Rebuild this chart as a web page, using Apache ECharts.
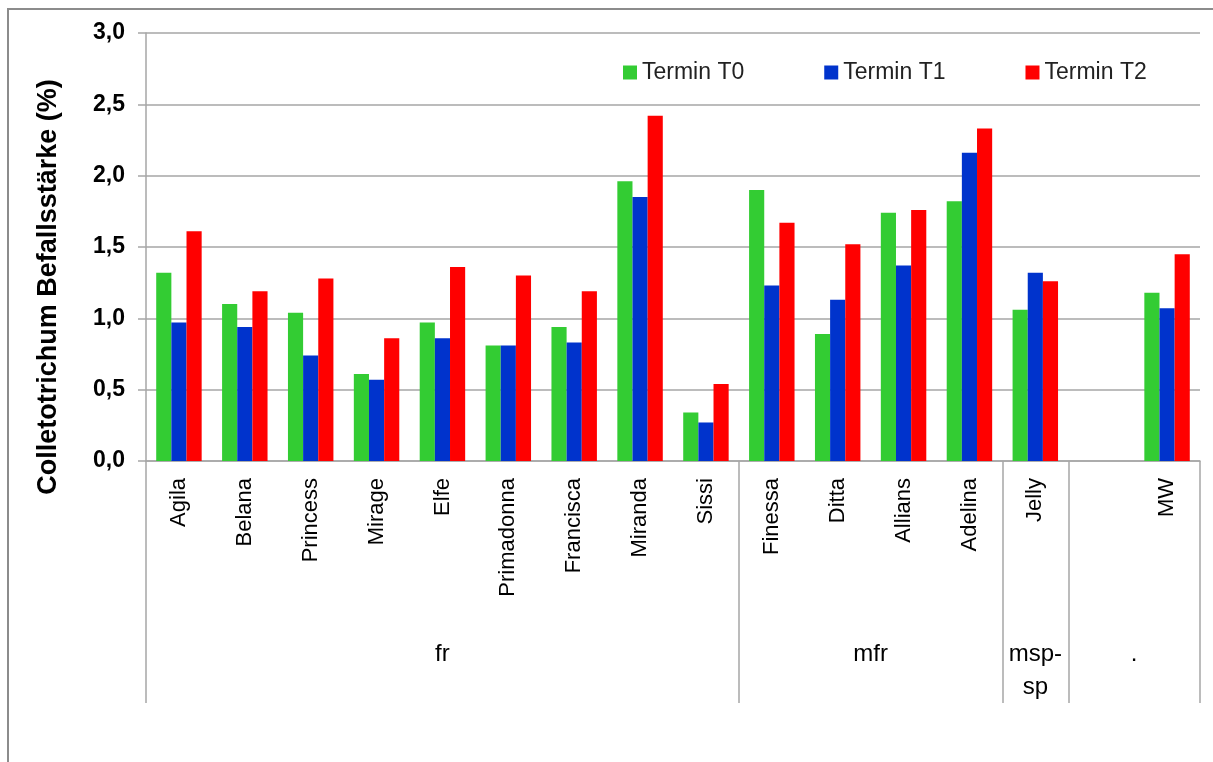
<!DOCTYPE html>
<html>
<head>
<meta charset="utf-8">
<script src="https://cdn.jsdelivr.net/npm/echarts@6/dist/echarts.min.js"></script>
<style>
  html, body { margin: 0; padding: 0; background: #fff; overflow: hidden; }
  #frame { position: absolute; left: 7px; top: 8px; width: 1300px; height: 800px; border: 2px solid #8c8c8c; }
  #main { position: absolute; left: 0; top: 0; width: 1213px; height: 762px; }
</style>
</head>
<body>
<div id="frame"></div>
<div id="main"></div>
<script>
// Sorten
var sorten = ['Agila', 'Belana', 'Princess', 'Mirage', 'Elfe', 'Primadonna', 'Francisca', 'Miranda', 'Sissi',
  'Finessa', 'Ditta', 'Allians', 'Adelina', 'Jelly', '', 'MW']
// Befallsstärke (%) je Termin
var terminT0 = [1.32, 1.10, 1.04, 0.61, 0.97, 0.81, 0.94, 1.96, 0.34, 1.90, 0.89, 1.74, 1.82, 1.06, null, 1.18]
var terminT1 = [0.97, 0.94, 0.74, 0.57, 0.86, 0.81, 0.83, 1.85, 0.27, 1.23, 1.13, 1.37, 2.16, 1.32, null, 1.07]
var terminT2 = [1.61, 1.19, 1.28, 0.86, 1.36, 1.30, 1.19, 2.42, 0.54, 1.67, 1.52, 1.76, 2.33, 1.26, null, 1.45]
// Gruppen (Position in Kategorien-Einheiten)
var gruppen = ['fr', 'mfr', 'msp-\nsp', '.']
var gruppenMitte = [4.5, 11, 13.5, 15]
var gruppenGrenzen = [0, 9, 13, 14, 16]
var yTicks = ['0,0', '0,5', '1,0', '1,5', '2,0', '2,5', '3,0']

var myChart = echarts.init(document.getElementById('main'))

var grau = '#a6a6a6'

var option = {
  animation: false,
  textStyle: { fontFamily: 'Liberation Sans, Arial, sans-serif' },
  grid: { left: 146, right: 13, top: 33, bottom: 301 },
  legend: {
    left: 618,
    top: 56,
    itemWidth: 14,
    itemHeight: 14,
    itemGap: 80,
    icon: 'rect',
    textStyle: { fontSize: 23, color: '#222', fontFamily: 'Liberation Sans, Arial' },
    data: ['Termin T0', 'Termin T1', 'Termin T2']
  },
  xAxis: [
    {
      type: 'category',
      data: sorten,
      axisLine: { lineStyle: { color: grau, width: 1.5 } },
      axisTick: { length: 164, lineStyle: { color: grau, width: 1.5 } },
      axisLabel: {
        rotate: 90,
        interval: 0,
        margin: 17,
        fontSize: 22,
        color: '#000'
      }
    },
    {
      type: 'value',
      position: 'bottom',
      min: 0,
      max: 16,
      axisLine: { show: false },
      splitLine: { show: false },
      axisTick: {
        show: true,
        length: 242,
        customValues: gruppenGrenzen,
        lineStyle: { color: grau, width: 1.5 }
      },
      axisLabel: {
        customValues: gruppenMitte,
        margin: 177,
        fontSize: 24,
        lineHeight: 33,
        color: '#000',
        formatter: function (v) {
          return gruppen[gruppenMitte.indexOf(v)]
        }
      }
    }
  ],
  yAxis: {
    type: 'value',
    min: 0,
    max: 3,
    interval: 0.5,
    name: 'Colletotrichum Befallsstärke (%)',
    nameLocation: 'middle',
    nameGap: 84,
    nameTextStyle: { fontSize: 27, fontWeight: 'bold', color: '#000', padding: [0, 80, 0, 0] },
    axisLine: { show: true, lineStyle: { color: grau, width: 1.5 } },
    axisTick: { show: true, length: 8, lineStyle: { color: grau, width: 1.5 } },
    splitLine: { lineStyle: { color: grau, width: 1.5 } },
    axisLabel: {
      margin: 21,
      fontSize: 23,
      fontWeight: 'bold',
      color: '#000',
      formatter: function (v) {
        return yTicks[Math.round(v * 2)]
      }
    }
  },
  series: [
    {
      name: 'Termin T0', type: 'bar', data: terminT0,
      barGap: '0%', barCategoryGap: '31%',
      itemStyle: { color: '#33cc33' }
    },
    {
      name: 'Termin T1', type: 'bar', data: terminT1,
      barGap: '0%', barCategoryGap: '31%',
      itemStyle: { color: '#0033cc' }
    },
    {
      name: 'Termin T2', type: 'bar', data: terminT2,
      barGap: '0%', barCategoryGap: '31%',
      itemStyle: { color: '#ff0000' }
    }
  ]
}

myChart.setOption(option)
</script>
</body>
</html>
